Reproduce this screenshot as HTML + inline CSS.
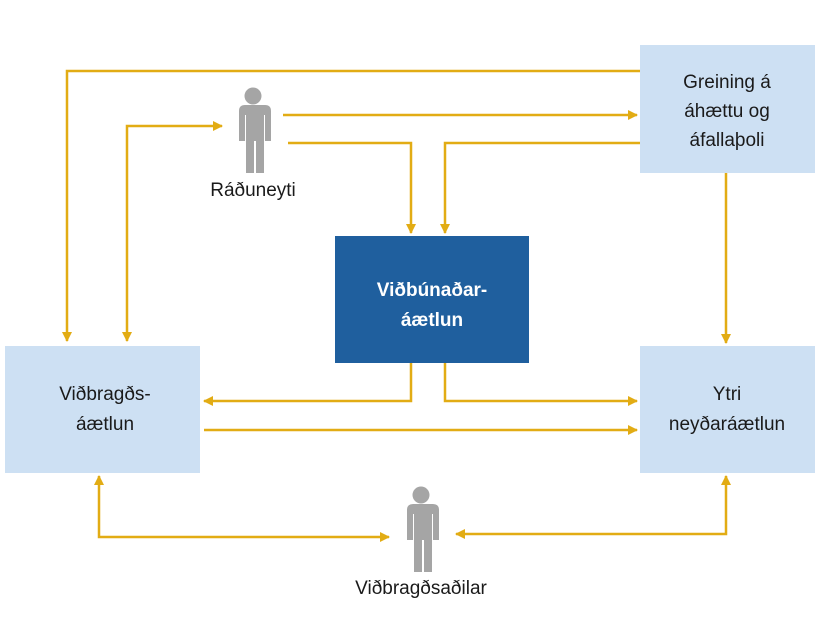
<!DOCTYPE html>
<html><head><style>body{margin:0;background:#fff}svg{display:block}text{font-family:"Liberation Sans",sans-serif}</style></head><body>
<svg width="825" height="643" viewBox="0 0 825 643" xmlns="http://www.w3.org/2000/svg">
<defs>
<marker id="a" markerWidth="10" markerHeight="10" refX="9" refY="5" orient="auto-start-reverse" markerUnits="userSpaceOnUse"><path d="M0,0 L10,5 L0,10 z" fill="#e2ac14"/></marker>
<g id="p" fill="#a5a5a5">
<circle cx="253" cy="96" r="8.5"/>
<path d="M241,105 h24 q6,0 6,6 v30 h-6 v-26 h-1 v58 h-8 v-32 h-2 v32 h-8 v-58 h-1 v26 h-6 v-30 q0,-6 6,-6z"/>
</g>
</defs>
<rect x="640" y="45" width="175" height="128" fill="#cde0f3"/>
<rect x="335" y="236" width="194" height="127" fill="#1f5f9e"/>
<rect x="5" y="346" width="195" height="127" fill="#cde0f3"/>
<rect x="640" y="346" width="175" height="127" fill="#cde0f3"/>
<g fill="none" stroke="#e2ac14" stroke-width="2.5">
<polyline points="640,71 67,71 67,341" marker-end="url(#a)"/>
<polyline points="127,341 127,126 222,126" marker-end="url(#a)" marker-start="url(#a)"/>
<polyline points="283,115 637,115" marker-end="url(#a)"/>
<polyline points="288,143 411,143 411,233" marker-end="url(#a)"/>
<polyline points="640,143 445,143 445,233" marker-end="url(#a)"/>
<polyline points="726,173 726,343" marker-end="url(#a)"/>
<polyline points="411,363 411,401 204,401" marker-end="url(#a)"/>
<polyline points="445,363 445,401 637,401" marker-end="url(#a)"/>
<polyline points="204,430 637,430" marker-end="url(#a)"/>
<polyline points="99,476 99,537 389,537" marker-end="url(#a)" marker-start="url(#a)"/>
<polyline points="726,476 726,534 456,534" marker-end="url(#a)" marker-start="url(#a)"/>
</g>
<use href="#p"/>
<use href="#p" transform="translate(168,399)"/>
<g font-size="19" fill="#1a1a1a" text-anchor="middle">
<text x="727" y="88">Greining á</text>
<text x="727" y="117">áhættu og</text>
<text x="727" y="146">áfallaþoli</text>
<text x="105" y="400">Viðbragðs-</text>
<text x="105" y="430">áætlun</text>
<text x="727" y="400">Ytri</text>
<text x="727" y="430">neyðaráætlun</text>
<text x="253" y="196">Ráðuneyti</text>
<text x="421" y="594">Viðbragðsaðilar</text>
<text x="432" y="296" fill="#fff" font-weight="bold">Viðbúnaðar-</text>
<text x="432" y="326" fill="#fff" font-weight="bold">áætlun</text>
</g>
</svg>
</body></html>
